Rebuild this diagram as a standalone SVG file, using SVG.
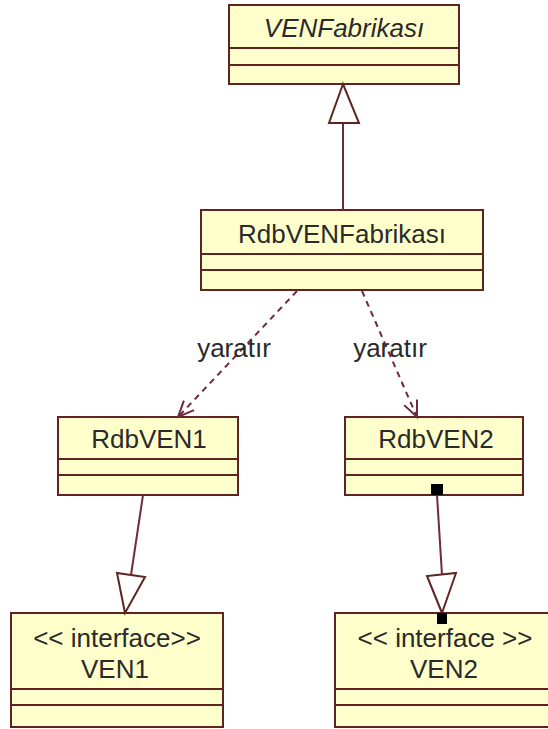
<svg xmlns="http://www.w3.org/2000/svg" width="548" height="729" viewBox="0 0 548 729">
  <style>
    .box { fill: #ffffcc; stroke: #5e2424; stroke-width: 2; }
    .sep { stroke: #5e2424; stroke-width: 2; fill: none; }
    .lbl { font-family: "Liberation Sans", Arial, sans-serif; font-size: 26px; fill: #2a2a2a; text-anchor: middle; }
    .ital { font-style: italic; }
    .edge { stroke: #6e2a40; stroke-width: 2; fill: none; }
    .dash { stroke: #6e2a40; stroke-width: 2; fill: none; stroke-dasharray: 6 5; }
    .head { stroke: #5e2424; stroke-width: 2; fill: #ffffff; }
    .pin { fill: #000; }
  </style>
  <defs>
    <marker id="open" viewBox="0 0 20 20" refX="18" refY="10" markerWidth="20" markerHeight="20" markerUnits="userSpaceOnUse" orient="auto">
      <path d="M2,3 L18,10 L2,17" fill="none" stroke="#6e2a40" stroke-width="2"/>
    </marker>
  </defs>
  <rect width="548" height="729" fill="#ffffff"/>

  <g id="VENFabrikasi">
    <rect class="box" x="229" y="5" width="230" height="79"/>
    <line class="sep" x1="229" y1="48" x2="459" y2="48"/>
    <line class="sep" x1="229" y1="65" x2="459" y2="65"/>
    <text class="lbl ital" x="344" y="37">VENFabrikası</text>
  </g>

  <g id="RdbVENFabrikasi">
    <rect class="box" x="201" y="210" width="282" height="80"/>
    <line class="sep" x1="201" y1="254" x2="483" y2="254"/>
    <line class="sep" x1="201" y1="270" x2="483" y2="270"/>
    <text class="lbl" x="342" y="243">RdbVENFabrikası</text>
  </g>

  <g id="RdbVEN1">
    <rect class="box" x="58" y="417" width="180" height="78"/>
    <line class="sep" x1="58" y1="459" x2="238" y2="459"/>
    <line class="sep" x1="58" y1="475" x2="238" y2="475"/>
    <text class="lbl" x="149" y="448">RdbVEN1</text>
  </g>

  <g id="RdbVEN2">
    <rect class="box" x="345" y="417" width="178" height="78"/>
    <line class="sep" x1="345" y1="459" x2="523" y2="459"/>
    <line class="sep" x1="345" y1="475" x2="523" y2="475"/>
    <text class="lbl" x="436" y="448">RdbVEN2</text>
  </g>

  <g id="VEN1">
    <rect class="box" x="11" y="613" width="212" height="114"/>
    <line class="sep" x1="11" y1="689" x2="223" y2="689"/>
    <line class="sep" x1="11" y1="705" x2="223" y2="705"/>
    <text class="lbl" x="117" y="647">&lt;&lt; interface&gt;&gt;</text>
    <text class="lbl" x="115" y="678">VEN1</text>
  </g>

  <g id="VEN2">
    <rect class="box" x="335" y="613" width="218" height="114"/>
    <line class="sep" x1="335" y1="689" x2="553" y2="689"/>
    <line class="sep" x1="335" y1="705" x2="553" y2="705"/>
    <text class="lbl" x="445" y="647">&lt;&lt; interface &gt;&gt;</text>
    <text class="lbl" x="444" y="678">VEN2</text>
  </g>

  <!-- connectors, drawn above the class boxes -->
  <g id="connectors">
    <!-- generalisation RdbVENFabrikasi -> VENFabrikasi -->
    <line class="edge" x1="343" y1="210" x2="343" y2="123"/>
    <polygon class="head" points="343,84 329,123 359,123"/>
    <!-- creates (dashed) -->
    <line class="dash" x1="297" y1="291" x2="178" y2="417" marker-end="url(#open)"/>
    <line class="dash" x1="362" y1="291" x2="417" y2="417" marker-end="url(#open)"/>
    <text class="lbl" x="234" y="357">yaratır</text>
    <text class="lbl" x="390" y="357">yaratır</text>
    <!-- realisations -->
    <line class="edge" x1="143" y1="495" x2="131" y2="575"/>
    <polygon class="head" points="125,613 117,573 145,577"/>
    <line class="edge" x1="437" y1="495" x2="442" y2="575"/>
    <polygon class="head" points="442,613 427,576 456,573"/>
    <rect class="pin" x="431" y="484" width="12" height="11"/>
    <rect class="pin" x="437" y="613" width="10" height="11"/>
  </g>
</svg>
